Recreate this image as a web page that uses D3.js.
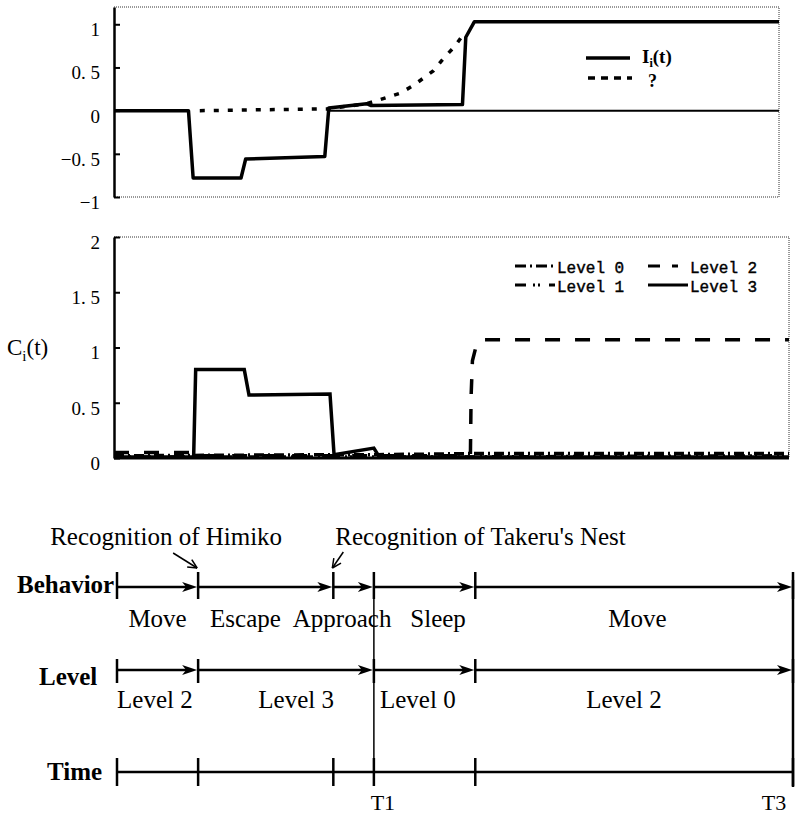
<!DOCTYPE html>
<html>
<head>
<meta charset="utf-8" />
<title></title>
<style>
html, body {
    padding: 0px;
    margin: 0px;
    background: #fff;
}
text { fill: #000; }
.tick line { stroke: #000; stroke-width: 2; }
.domain { stroke: #000; stroke-width: 2.5; }
</style>
</head>
<body>
<svg id="chart" width="796" height="816"></svg>
<script src="https://cdnjs.cloudflare.com/ajax/libs/d3/7.8.5/d3.min.js"></script>
<script>
!(function(){
    "use strict"

    // ---- data (time in % of T3) ----
    var topTicks = [-1, -0.5, 0, 0.5, 1];
    var midTicks = [0, 0.5, 1, 1.5, 2];

    var iSeries = [[0,0],[11.2,0],[11.9,-0.78],[19.1,-0.78],[19.8,-0.56],[31.7,-0.53],[32.3,0.03],
                   [38,0.08],[38.6,0.06],[52.4,0.07],[52.9,0.85],[54.2,1.03],[100,1.03]];
    var qSeries = [[12.9,0],[32,0.02],[38,0.08],[43,0.2],[45,0.29],[48,0.46],[49.5,0.6],[51.3,0.75],[52.5,0.88]];
    var zeroSeries = [[32.3,0],[100,0]];

    var level0 = [[0,0.02],[32.6,0.03],[39,0.03],[53,0.04],[100,0.04]];
    var level1 = [[0,0.01],[53,0.01],[100,0.02]];
    var level2 = [[0,0.05],[11.8,0.05],[12.1,0.02],[52.8,0.02],[52.9,0.55],[53.1,0.88],[53.6,1.0],[54.5,1.07],[100,1.07]];
    var level3 = [[0,0.01],[11.8,0.01],[12.1,0.8],[19.3,0.8],[20,0.57],[32,0.58],[32.6,0.03],[38.5,0.09],[39.3,0.01],[100,0.01]];

    var levelNames = ["Level 0", "Level 1", "Level 2", "Level 3"];

    var events = [0, 12, 32, 38, 53, 100];
    var behaviorSegs = [[0,12],[12,32],[32,38],[38,53],[53,100]];
    var behaviorNames = ["Move", "Escape", "Approach", "Sleep", "Move"];
    var behaviorLabelT = [6, 19, 33.3, 47.5, 77];
    var levelSegs = [[0,12],[12,38],[38,53],[53,100]];
    var levelSegNames = ["Level 2", "Level 3", "Level 0", "Level 2"];
    var levelLabelT = [5.6, 26.5, 44.5, 75];
    var timeNames = [{t:38, name:"T1"}, {t:100, name:"T3"}];
    var recognitions = [{t:12, name:"Recognition of Himiko"}, {t:32, name:"Recognition of Takeru's Nest"}];

    var svg = d3.select("#chart");
    var serif = "'Liberation Serif', 'Times New Roman', serif";

    function fmt(d) { return String(d).replace("-", "\u2212").replace(".", ". "); }

    function frame(g, x0, x1, y0, y1, bottomDotted) {
        var p = "M" + x0 + "," + y0 + "H" + x1 + "V" + y1;
        if (bottomDotted) p += "H" + x0;
        g.append("path").attr("d", p).attr("fill", "none")
            .attr("stroke", "#333").attr("stroke-width", 1).attr("stroke-dasharray", "1,1");
    }

    // ---------- top chart ----------
    var xTop = d3.scaleLinear().domain([0, 100]).range([114, 779]);
    var yTop = d3.scaleLinear().domain([-1, 1.2]).range([197, 7]);
    var gTop = svg.append("g");
    frame(gTop, 114, 779, 7, 197, true);

    var axTop = gTop.append("g").attr("transform", "translate(114,0)")
        .call(d3.axisLeft(yTop).tickValues(topTicks).tickSizeInner(-6).tickSizeOuter(0).tickPadding(14).tickFormat(fmt));
    axTop.selectAll("text").attr("font-family", serif).attr("font-size", 19).attr("dy", "0.6em");

    var lineTop = d3.line().x(function(d){ return xTop(d[0]); }).y(function(d){ return yTop(d[1]); });
    gTop.append("path").datum(zeroSeries).attr("d", lineTop).attr("fill", "none").attr("stroke", "#000").attr("stroke-width", 2);
    gTop.append("path").datum(qSeries).attr("d", lineTop).attr("fill", "none").attr("stroke", "#000")
        .attr("stroke-width", 3.5).attr("stroke-dasharray", "5,9");
    gTop.append("path").datum(iSeries).attr("d", lineTop).attr("fill", "none").attr("stroke", "#000")
        .attr("stroke-width", 3.5).attr("stroke-linejoin", "round");

    // legend
    gTop.append("line").attr("x1", 586).attr("x2", 630).attr("y1", 58).attr("y2", 58)
        .attr("stroke", "#000").attr("stroke-width", 3.5);
    gTop.append("line").attr("x1", 588).attr("x2", 632).attr("y1", 78).attr("y2", 78)
        .attr("stroke", "#000").attr("stroke-width", 3.5).attr("stroke-dasharray", "7,6");
    var lt = gTop.append("text").attr("x", 642).attr("y", 63).attr("font-family", serif)
        .attr("font-size", 19).attr("font-weight", "bold");
    lt.append("tspan").text("I");
    lt.append("tspan").attr("dy", 4).attr("font-size", 12).text("i");
    lt.append("tspan").attr("dy", -4).text("(t)");
    gTop.append("text").attr("x", 648).attr("y", 87).attr("font-family", serif)
        .attr("font-size", 18).attr("font-weight", "bold").text("?");

    // ---------- middle chart ----------
    var xMid = d3.scaleLinear().domain([0, 100]).range([114, 789]);
    var yMid = d3.scaleLinear().domain([0, 2]).range([458, 237]);
    var gMid = svg.append("g");
    frame(gMid, 114, 789, 237, 458, false);

    var axMid = gMid.append("g").attr("transform", "translate(114,0)")
        .call(d3.axisLeft(yMid).tickValues(midTicks).tickSizeInner(-6).tickSizeOuter(0).tickPadding(14).tickFormat(fmt));
    axMid.selectAll("text").attr("font-family", serif).attr("font-size", 19).attr("dy", "0.6em");

    gMid.append("line").attr("x1", xMid(0)).attr("x2", xMid(100)).attr("y1", yMid(0)).attr("y2", yMid(0))
        .attr("stroke", "#000").attr("stroke-width", 3);

    var lineMid = d3.line().x(function(d){ return xMid(d[0]); }).y(function(d){ return yMid(d[1]); });
    var dashes = ["10,4,2,4", "10,5,2,3,2,5", "15,15", null];
    [level0, level1, level2, level3].forEach(function(s, i) {
        gMid.append("path").datum(s).attr("d", lineMid).attr("fill", "none").attr("stroke", "#000")
            .attr("stroke-width", 3.5).attr("stroke-dasharray", dashes[i]);
    });

    // y label
    var cl = gMid.append("text").attr("x", 7).attr("y", 355).attr("font-family", serif).attr("font-size", 23);
    cl.append("tspan").text("C");
    cl.append("tspan").attr("dy", 6).attr("font-size", 15).text("i");
    cl.append("tspan").attr("dy", -6).text("(t)");

    // legend
    var legPos = [[515, 266], [515, 285], [648, 266], [648, 285]];
    var legDash = ["11,4,2,4", "11,7,2,3,2,9", "12,12,6,20", null];
    levelNames.forEach(function(n, i) {
        var p = legPos[i];
        gMid.append("line").attr("x1", p[0]).attr("x2", p[0] + 40).attr("y1", p[1]).attr("y2", p[1])
            .attr("stroke", "#000").attr("stroke-width", 3).attr("stroke-dasharray", legDash[i]);
        gMid.append("text").attr("x", p[0] + 42).attr("y", p[1] + 7)
            .attr("font-family", "'Liberation Mono', monospace").attr("font-size", 16)
            .attr("stroke", "#000").attr("stroke-width", 0.4).text(n);
    });

    // ---------- timeline ----------
    var xT = d3.scaleLinear().domain([0, 100]).range([117, 793]);
    var gT = svg.append("g");
    var rowB = 587, rowL = 670, rowT = 772;

    function arrowHead(x, y) {
        gT.append("path").attr("d", "M" + x + "," + y + "L" + (x - 15) + "," + (y - 5) + "L" + (x - 11) + "," + y +
            "L" + (x - 15) + "," + (y + 5) + "Z").attr("fill", "#000");
    }
    function hline(x0, x1, y) {
        gT.append("line").attr("x1", x0).attr("x2", x1).attr("y1", y).attr("y2", y)
            .attr("stroke", "#000").attr("stroke-width", 2.5);
    }
    function tick(x, y0, y1, w) {
        gT.append("line").attr("x1", x).attr("x2", x).attr("y1", y0).attr("y2", y1)
            .attr("stroke", "#000").attr("stroke-width", w || 2.5);
    }

    // long vertical guides at T1 and T3
    tick(xT(38), rowB - 15, rowT + 14, 1.5);
    tick(xT(100), rowB - 7, rowT + 15, 2.5);

    behaviorSegs.forEach(function(s) {
        hline(xT(s[0]), xT(s[1]) - 8, rowB);
        arrowHead(xT(s[1]) - 1, rowB);
    });
    events.forEach(function(t) { tick(xT(t), rowB - 15, rowB + 12); });

    levelSegs.forEach(function(s) {
        hline(xT(s[0]), xT(s[1]) - 8, rowL);
        arrowHead(xT(s[1]) - 1, rowL);
    });
    [0, 12, 38, 53, 100].forEach(function(t) { tick(xT(t), rowL - 11, rowL + 13); });

    hline(xT(0), xT(100), rowT);
    events.forEach(function(t) { tick(xT(t), rowT - 14, rowT + 14); });

    var rowTitles = [["Behavior", 17, rowB + 6], ["Level", 39, rowL + 15], ["Time", 47, rowT + 8]];
    rowTitles.forEach(function(r) {
        gT.append("text").attr("x", r[1]).attr("y", r[2]).attr("font-family", serif)
            .attr("font-size", 25).attr("font-weight", "bold").text(r[0]);
    });

    behaviorNames.forEach(function(n, i) {
        gT.append("text").attr("x", xT(behaviorLabelT[i])).attr("y", rowB + 40).attr("text-anchor", "middle")
            .attr("font-family", serif).attr("font-size", 25).text(n);
    });
    levelSegNames.forEach(function(n, i) {
        gT.append("text").attr("x", xT(levelLabelT[i])).attr("y", rowL + 38).attr("text-anchor", "middle")
            .attr("font-family", serif).attr("font-size", 25).text(n);
    });
    timeNames.forEach(function(d) {
        gT.append("text").attr("x", d.t === 100 ? xT(d.t) - 19 : xT(d.t) + 9).attr("y", rowT + 38)
            .attr("text-anchor", "middle").attr("font-family", serif).attr("font-size", 22).text(d.name);
    });

    // recognition annotations
    recognitions.forEach(function(r, i) {
        var x = xT(r.t);
        var tip = [x - 1, rowB - 19];
        var tail = i === 0 ? [x - 25, rowB - 34] : [x + 10, rowB - 35];
        gT.append("text").attr("x", i === 0 ? x + 84 : x + 2).attr("y", rowB - 42)
            .attr("text-anchor", i === 0 ? "end" : "start")
            .attr("font-family", serif).attr("font-size", 25).text(r.name);
        gT.append("line").attr("x1", tail[0]).attr("y1", tail[1]).attr("x2", tip[0]).attr("y2", tip[1])
            .attr("stroke", "#000").attr("stroke-width", 1.5);
        var a = Math.atan2(tail[1] - tip[1], tail[0] - tip[0]);
        [-0.45, 0.45].forEach(function(da) {
            gT.append("line").attr("x1", tip[0]).attr("y1", tip[1])
                .attr("x2", tip[0] + 10 * Math.cos(a + da)).attr("y2", tip[1] + 10 * Math.sin(a + da))
                .attr("stroke", "#000").attr("stroke-width", 1.5);
        });
    });

}());
</script>
</body>
</html>
